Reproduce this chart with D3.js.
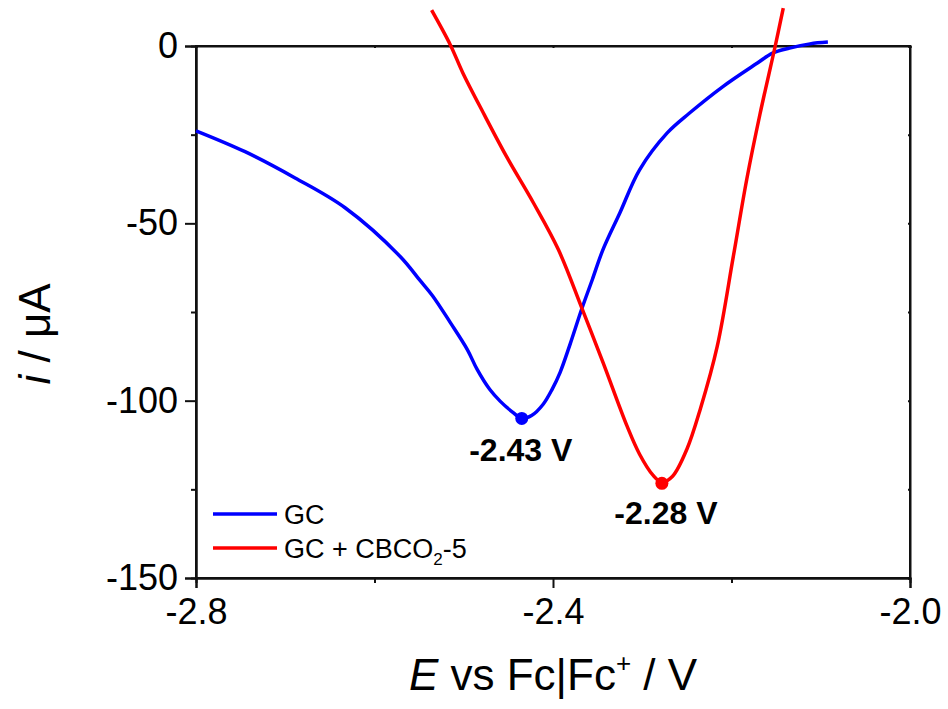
<!DOCTYPE html>
<html>
<head>
<meta charset="utf-8">
<script src="https://cdn.jsdelivr.net/npm/d3@7"></script>
<style>
  body { margin: 0; background: #fff; }
  svg { display: block; font-family: "Liberation Sans", Arial, sans-serif; }
</style>
</head>
<body>
<svg id="chart" width="948" height="709"></svg>
<script>
// GC (blue) linear sweep, E in V vs Fc|Fc+, i in uA
const gcE = [-2.800, -2.745, -2.689, -2.633, -2.571, -2.549, -2.535, -2.515, -2.496, -2.485,
  -2.471, -2.459, -2.445, -2.435, -2.424, -2.411, -2.401, -2.392, -2.381, -2.368,
  -2.356, -2.344, -2.325, -2.303, -2.272, -2.247, -2.210, -2.171, -2.154, -2.135,
  -2.112, -2.092];
const gcI = [-23.9, -29.8, -37.2, -45.6, -59.4, -66.1, -70.4, -78.0, -85.6, -91.2,
  -96.8, -100.2, -103.3, -105.0, -104.2, -101.0, -96.8, -92.0, -84.2, -74.3,
  -65.9, -57.4, -47.0, -34.9, -24.5, -18.9, -11.5, -4.8, -2.0, -0.6,
  0.6, 1.1];

// GC + CBCO2-5 (red)
const cbE = [-2.536, -2.515, -2.501, -2.478, -2.452, -2.422, -2.394, -2.368, -2.344, -2.317,
  -2.303, -2.288, -2.278, -2.266, -2.250, -2.235, -2.216, -2.198, -2.183, -2.168,
  -2.151, -2.142];
const cbI = [10.1, 0.3, -7.6, -18.9, -31.2, -44.2, -57.4, -73.7, -89.2, -107.2,
  -115.1, -121.0, -123.0, -121.3, -113.7, -102.4, -84.7, -59.4, -37.7, -19.1,
  0.0, 10.7];

// peak markers
const peakE = [-2.435, -2.278];
const peakI = [-105.0, -123.3];
const peakText = ["-2.43 V", "-2.28 V"];

const xTicks = [-2.8, -2.4, -2.0];
const xMinor = [-2.6, -2.2];
const yTicks = [-150, -100, -50, 0];
const yMinor = [-125, -75, -25];

const series = [
  { name: "GC", color: "#0000ff", E: gcE, I: gcI },
  { name: "GC + CBCO2-5", color: "#ff0000", E: cbE, I: cbI }
];

const svg = d3.select("#chart");
const m = { left: 196, top: 46, right: 910, bottom: 578 };

const x = d3.scaleLinear().domain([-2.8, -2.0]).range([m.left, m.right]);
const y = d3.scaleLinear().domain([-150, 0]).range([m.bottom, m.top]);

// plain hyphen minus, like the original
const fmtX = d => d.toFixed(1);
const fmtY = d => String(d);
const axisColor = "#111";

// frame
svg.append("rect")
  .attr("x", m.left).attr("y", m.top)
  .attr("width", m.right - m.left).attr("height", m.bottom - m.top)
  .attr("fill", "none").attr("stroke", axisColor).attr("stroke-width", 2);

// bottom axis
const gx = svg.append("g").attr("transform", `translate(0,${m.bottom})`)
  .call(d3.axisBottom(x).tickValues(xTicks).tickSize(10).tickPadding(10).tickFormat(fmtX));
gx.append("g")
  .call(d3.axisBottom(x).tickValues(xMinor).tickSize(5).tickFormat(""));

// left axis
const gy = svg.append("g").attr("transform", `translate(${m.left},0)`)
  .call(d3.axisLeft(y).tickValues(yTicks).tickSize(11).tickPadding(7).tickFormat(fmtY));
gy.append("g")
  .call(d3.axisLeft(y).tickValues(yMinor).tickSize(5).tickFormat(""));

// tiny ticks along top and right
svg.append("g").attr("transform", `translate(0,${m.top})`)
  .call(d3.axisBottom(x).tickValues(xTicks.concat(xMinor)).tickSize(2).tickFormat(""));
svg.append("g").attr("transform", `translate(${m.right},0)`)
  .call(d3.axisLeft(y).tickValues(yTicks.concat(yMinor)).tickSize(2).tickFormat(""));

svg.selectAll(".domain").attr("stroke", axisColor).attr("stroke-width", 2);
svg.selectAll(".tick line").attr("stroke", axisColor).attr("stroke-width", 2);
svg.selectAll(".tick text")
  .attr("fill", "#000")
  .style("font-size", "36px")
  .style("font-family", "\"Liberation Sans\", Arial, sans-serif");

// curves (not clipped: red runs above the top frame)
const line = d3.line()
  .x(d => x(d[0]))
  .y(d => y(d[1]))
  .curve(d3.curveCatmullRom.alpha(0.5));

svg.append("g").selectAll("path")
  .data(series)
  .join("path")
  .attr("d", s => line(d3.zip(s.E, s.I)))
  .attr("fill", "none")
  .attr("stroke", s => s.color)
  .attr("stroke-width", 3.5)
  .attr("stroke-linejoin", "round");

// peak dots + labels
const peaks = d3.zip(peakE, peakI, peakText, series.map(s => s.color));
svg.append("g").selectAll("circle")
  .data(peaks)
  .join("circle")
  .attr("cx", d => x(d[0]))
  .attr("cy", d => y(d[1]))
  .attr("r", 6.5)
  .attr("fill", d => d[3]);

svg.append("g").selectAll("text")
  .data(peaks)
  .join("text")
  .attr("x", (d, i) => x(d[0]) + (i ? 4 : -1))
  .attr("y", (d, i) => y(d[1]) + (i ? 41 : 43))
  .attr("text-anchor", "middle")
  .attr("font-weight", "bold")
  .attr("font-size", 32)
  .text(d => d[2]);

// legend
const legend = svg.append("g").attr("transform", "translate(213,514)");
const rows = legend.selectAll("g")
  .data(series)
  .join("g")
  .attr("transform", (d, i) => `translate(0,${i * 34})`);
rows.append("line")
  .attr("x1", 0).attr("x2", 64)
  .attr("stroke", d => d.color).attr("stroke-width", 3.5);
const ltext = rows.append("text")
  .attr("x", 71).attr("dy", "0.36em")
  .attr("font-size", 27);
ltext.filter((d, i) => i === 0).text(d => d.name);
const lt2 = ltext.filter((d, i) => i === 1);
lt2.append("tspan").text("GC + CBCO");
lt2.append("tspan").attr("font-size", 17).attr("dy", 7).text("2");
lt2.append("tspan").attr("dy", -7).text("-5");

// axis titles
const xt = svg.append("text")
  .attr("x", (m.left + m.right) / 2)
  .attr("y", 690)
  .attr("text-anchor", "middle")
  .attr("font-size", 44);
xt.append("tspan").attr("font-style", "italic").text("E");
xt.append("tspan").text(" vs Fc|Fc");
xt.append("tspan").attr("font-size", 26).attr("dy", -18).text("+");
xt.append("tspan").attr("dy", 18).text(" / V");

const yt = svg.append("text")
  .attr("transform", "translate(50,334) rotate(-90)")
  .attr("text-anchor", "middle")
  .attr("font-size", 44);
yt.append("tspan").attr("font-style", "italic").text("i");
yt.append("tspan").text(" / μA");
</script>
</body>
</html>
